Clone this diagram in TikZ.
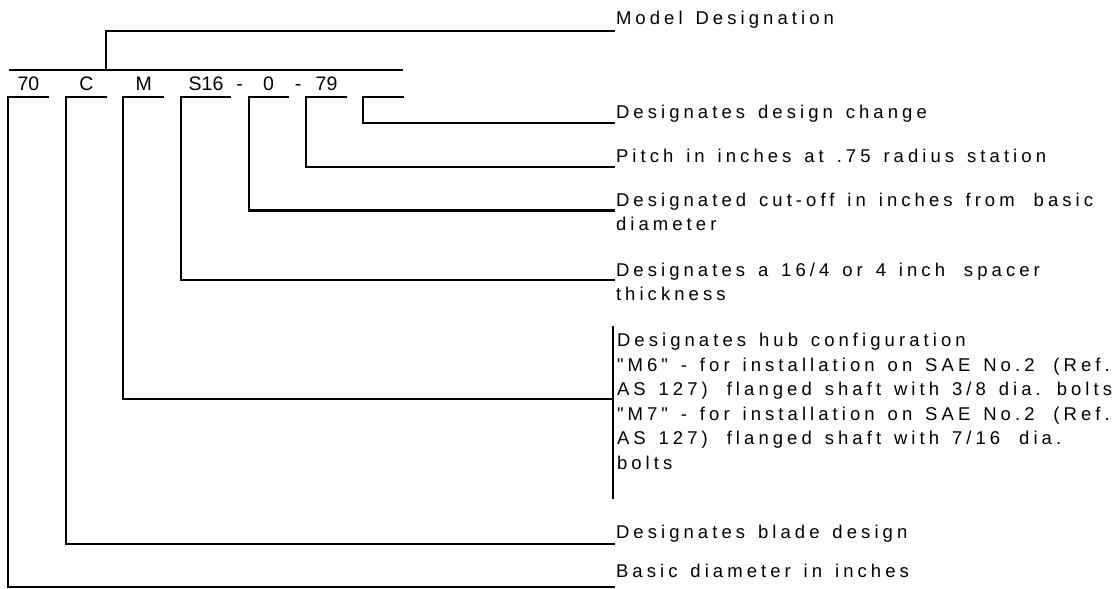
\documentclass[tikz,border=0pt]{standalone}
\usepackage{fontspec}
\setmainfont{Liberation Sans}
\newfontfamily\spaced{Liberation Sans}[LetterSpace=22, WordSpace=1.4]
\usetikzlibrary{calc}

\newcommand{\wide}{\ \kern3pt}

\tikzset{
	code/.style = {inner xsep=0pt, inner ysep=2.5pt, text height=7pt, text depth=0pt, anchor=base, minimum width=19.5pt, font=\fontsize{9.75}{12}\selectfont},
	lbl/.style = {inner sep=0pt, anchor=base west, align=left, font=\spaced\fontsize{9.25}{12}\selectfont}
}

\begin{document}
\begin{tikzpicture}[x=0.5pt, y=-0.5pt, line width=1pt]
		\useasboundingbox (0,0) rectangle (1117,588);
		% model code
		\node[code] (c70) at (28.5,91) {70};
		\node[code] (cC) at (86.3,91) {C};
		\node[code] (cM) at (143.8,91) {M};
		\node[code, minimum width=24pt] (cS) at (206,91) {S16};
		\node[code, minimum width=19pt] (c0) at (268.5,91) {0};
		\node[code, minimum width=19.2pt] (c79) at (326.5,91) {79};
		\node[code] (cX) at (383.8,91) {};
		\node[code, minimum width=0pt] (h1) at (239.5,91) {-};
		\node[code, minimum width=0pt] (h2) at (298,91) {-};
		\coordinate (rowL) at (9,70);
		\coordinate (rowR) at (403,70);
		\coordinate (stem) at (105.7,70);
		
		% what each part means (base = last line)
		\node[lbl] (model) at (615,25) {Model Designation};
		\node[lbl] (change) at (615,118.3) {Designates design change};
		\node[lbl] (pitch) at (615,163) {Pitch in inches at .75 radius station};
		\node[lbl] (cutoff) at (615,230.5) {Designated cut-off in inches from\wide basic\\diameter};
		\node[lbl] (spacer) at (615,300) {Designates a 16/4 or 4 inch\wide spacer\\thickness};
		\node[lbl, font=\spaced\fontsize{9.25}{12.25}\selectfont] (hub) at (616,469.2) {Designates hub configuration\\
			"M6" - for installation on SAE No.2\wide (Ref.\\
			AS 127)\wide flanged shaft with 3/8 dia. bolts\\
			"M7" - for installation on SAE No.2\wide (Ref.\\
			AS 127)\wide flanged shaft with 7/16\wide dia.\\
			bolts};
		\node[lbl] (blade) at (615,538) {Designates blade design};
		\node[lbl] (basic) at (615,577) {Basic diameter in inches};
		\coordinate (bartop) at (613.3,326);
		\coordinate (barbot) at (613.3,499.3);
		\coordinate (hubin) at (613.3,399.3);
		
		\draw (rowL) -- (rowR);
		\draw (stem) |- ([yshift=-3pt]model.base west);
		\draw (cX.south east) -- (cX.south west) |- ([yshift=-2.4pt]change.base west);
		\draw (c79.south east) -- (c79.south west) |- ([yshift=-1.8pt]pitch.base west);
		\draw (c0.south east) -- (c0.south west) |- ([yshift=10pt]cutoff.base west);
		\draw (cS.south east) -- (cS.south west) |- ([yshift=10pt]spacer.base west);
		\draw (bartop) -- (barbot);
		\draw (cM.south east) -- (cM.south west) |- (hubin);
		\draw (cC.south east) -- (cC.south west) |- ([yshift=-3pt]blade.base west);
		\draw (c70.south east) -- (c70.south west) |- ([yshift=-4.8pt]basic.base west);
\end{tikzpicture}
\end{document}
